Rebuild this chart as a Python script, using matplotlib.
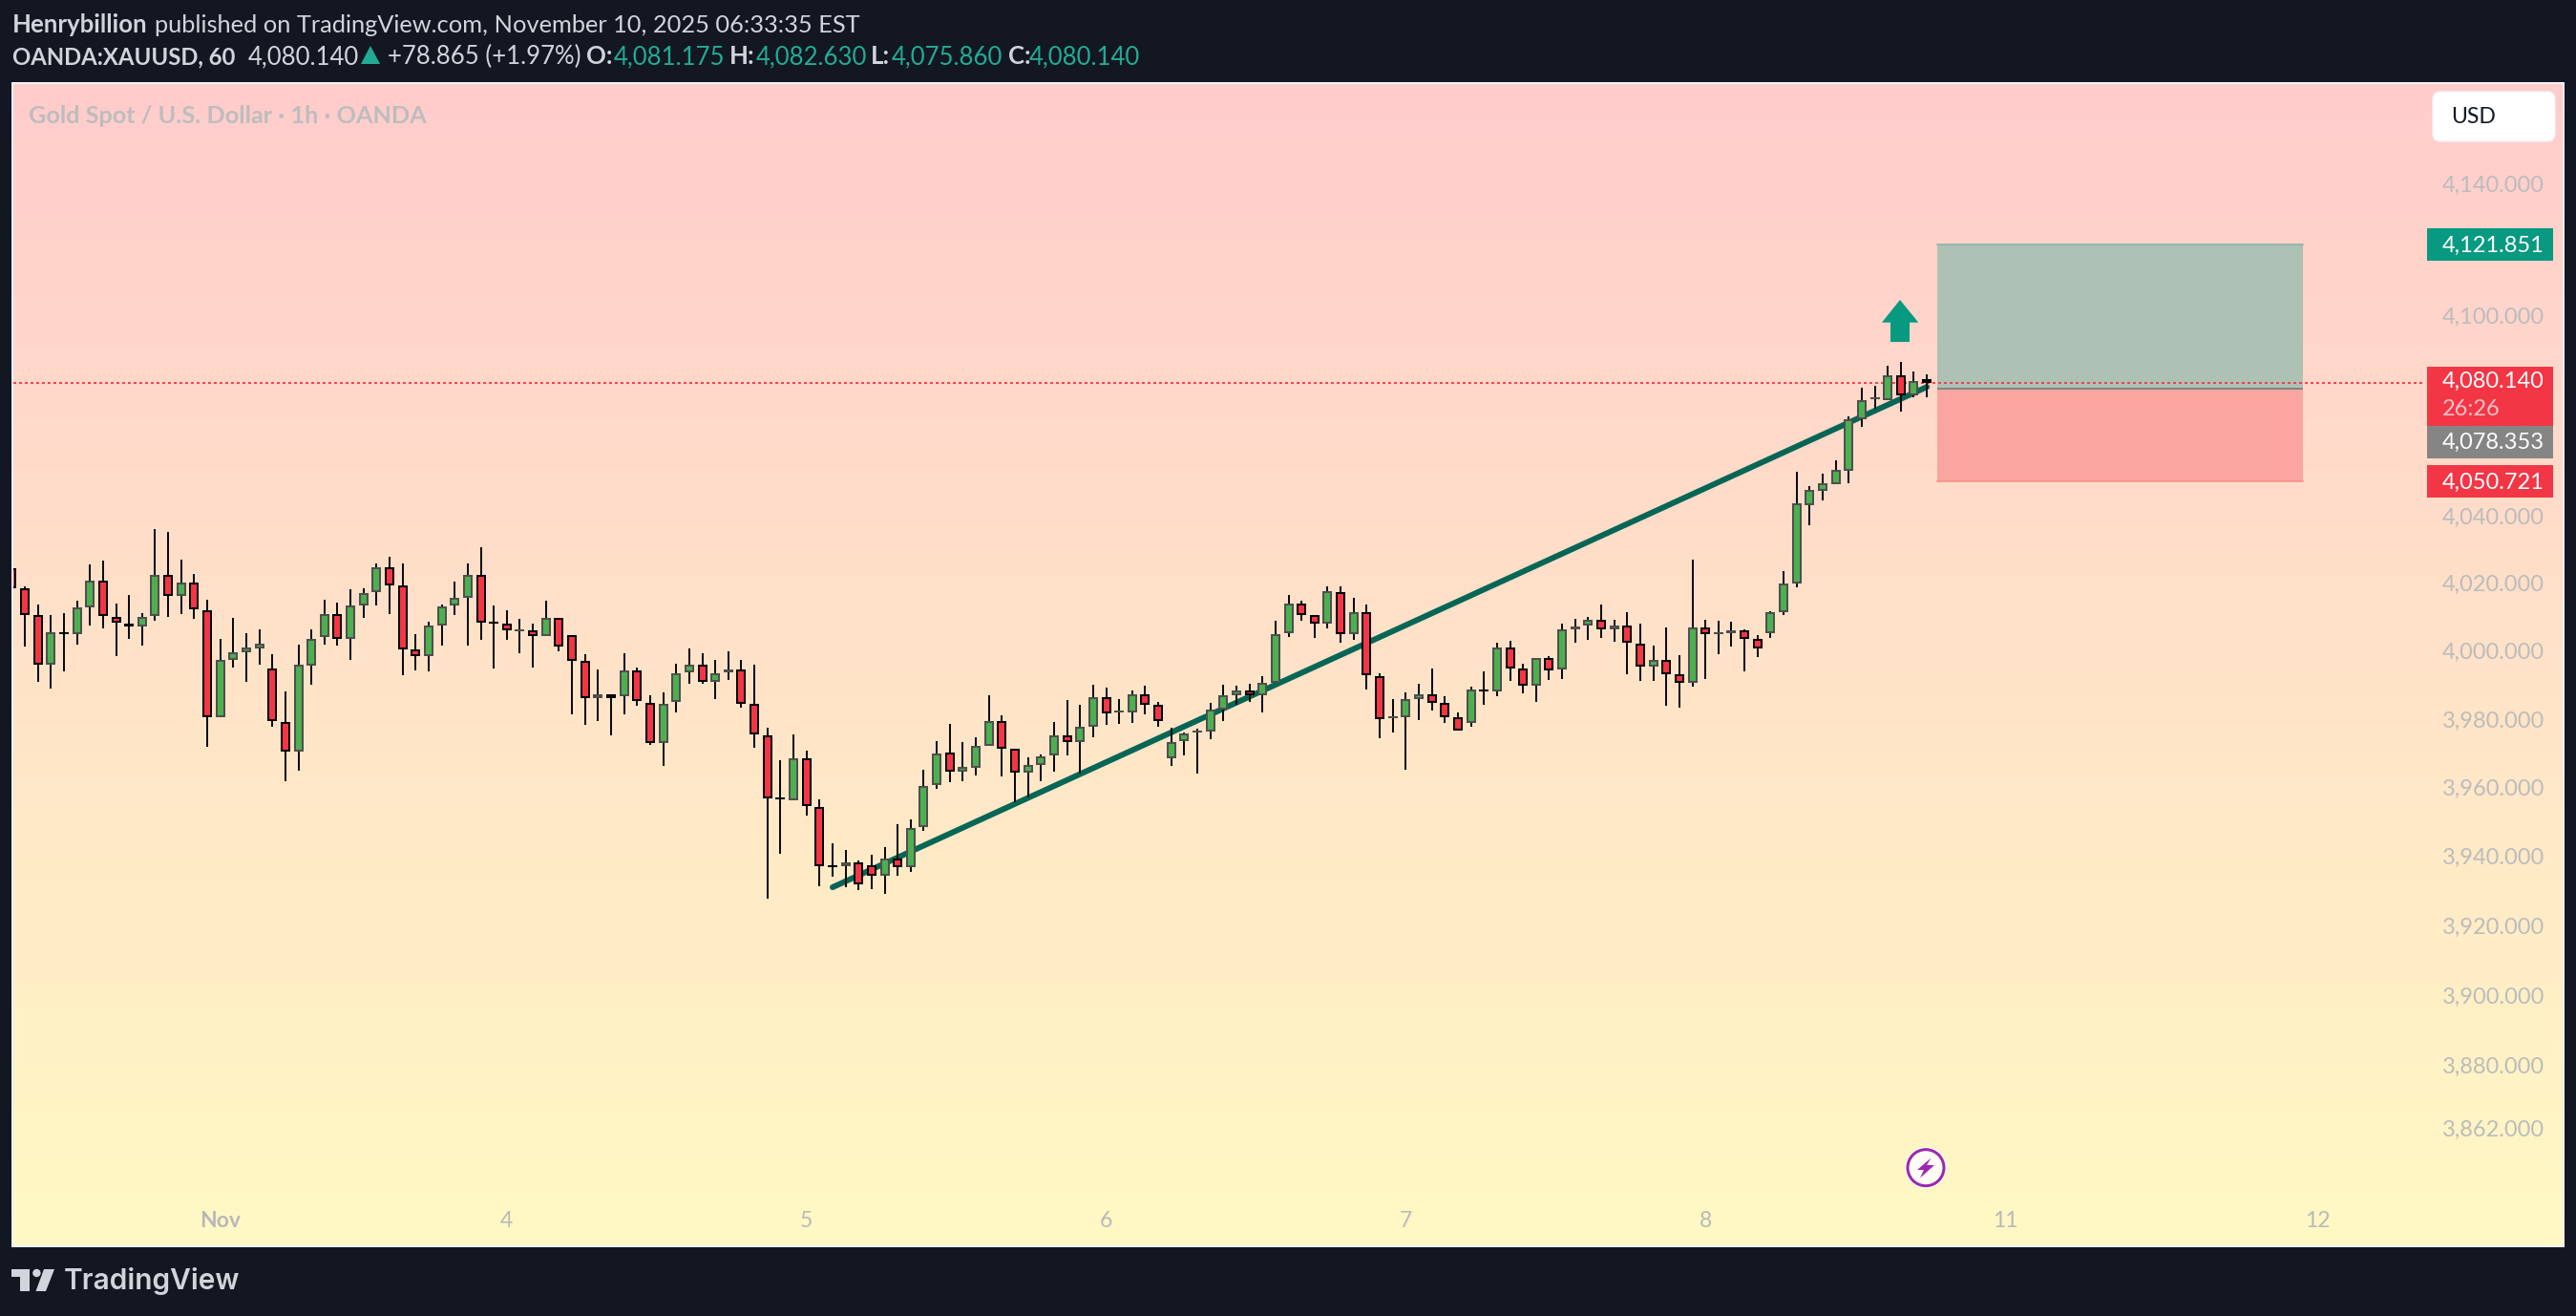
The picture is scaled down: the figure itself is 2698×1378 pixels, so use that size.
import numpy as np
import matplotlib
matplotlib.use("Agg")
import matplotlib.pyplot as plt
from matplotlib.colors import LinearSegmentedColormap
from matplotlib.patches import Rectangle, Polygon, FancyBboxPatch, Circle, Ellipse
from matplotlib.transforms import blended_transform_factory

opens = [4025.0,
 4018.8,4011.1,3996.4,4005.8,4005.3,4013.4,4021.2,4010.6,4008.6,4007.6,
 4010.7,4022.9,4016.8,4020.7,4012.5,3980.9,3997.8,4000.0,4001.3,3995.4,
 3979.7,3970.8,3996.1,4004.5,4011.4,4003.9,4013.9,4017.7,4025.2,4019.8,
 4000.8,3998.9,4007.9,4013.8,4016.0,4022.9,4008.9,4008.6,4006.5,4006.4,
 4004.9,4010.3,4005.2,3997.4,3986.7,3987.7,3987.1,3994.6,3985.3,3973.4,
 3985.4,3994.1,3996.3,3991.3,3994.1,3995.1,3984.8,3975.8,3957.4,3956.8,
 3969.1,3954.8,3937.8,3937.5,3938.8,3938.0,3934.8,3939.8,3937.3,3948.9,
 3961.1,3970.7,3965.2,3966.3,3972.5,3979.9,3971.9,3964.7,3967.0,3969.7,
 3975.7,3973.6,3978.3,3986.8,3982.5,3982.5,3987.7,3984.6,3968.9,3973.9,
 3976.7,3976.9,3983.3,3987.5,3988.8,3987.4,3991.2,4005.6,4014.5,4010.9,
 4008.4,4017.9,4005.4,4012.0,3992.9,3980.9,3980.9,3986.3,3987.7,3985.2,
 3980.9,3979.3,3988.9,3988.5,4001.6,3995.2,3990.2,3998.3,3995.0,4006.7,
 4007.9,4009.5,4006.8,4007.8,4002.7,3995.8,3997.7,3993.5,3991.0,4007.5,
 4005.7,4005.6,4006.4,4003.9,4005.7,4011.8,4020.2,4043.7,4047.9,4049.9,
 4053.9,4069.3,4075.4,4075.0,4082.3,4076.5,4081.175]
closes = [4019.0,
 4011.1,3996.4,4005.9,4005.6,4013.4,4021.2,4010.7,4008.7,4007.6,4010.6,
 4022.9,4016.8,4020.7,4012.6,3980.9,3997.7,4000.0,4001.6,4002.7,3979.8,
 3970.8,3996.3,4004.1,4011.4,4003.9,4013.9,4017.6,4025.2,4019.9,4000.9,
 3998.9,4007.8,4013.7,4016.2,4022.9,4008.7,4008.7,4006.5,4006.7,4004.9,
 4010.3,4001.8,3997.5,3986.6,3987.7,3986.7,3994.6,3985.8,3973.4,3985.0,
 3994.0,3996.3,3991.3,3994.0,3995.1,3984.9,3976.0,3957.2,3957.2,3969.1,
 3955.2,3937.6,3937.6,3938.8,3932.3,3934.8,3939.7,3937.3,3948.8,3961.0,
 3970.5,3965.0,3966.4,3972.7,3979.9,3971.9,3964.7,3967.0,3969.6,3975.7,
 3973.6,3978.2,3986.8,3982.2,3982.7,3987.7,3984.7,3980.0,3973.8,3976.3,
 3976.9,3983.2,3987.4,3988.8,3987.5,3991.2,4005.5,4014.5,4011.0,4008.4,
 4018.0,4005.4,4012.0,3993.3,3980.4,3981.1,3986.2,3987.7,3985.2,3980.9,
 3977.1,3989.0,3988.7,4001.6,3995.4,3990.2,3998.3,3994.7,4006.7,4007.6,
 4009.5,4006.8,4007.8,4002.8,3995.8,3997.7,3993.6,3991.0,4007.5,4005.4,
 4005.9,4006.5,4004.0,4001.2,4011.8,4020.2,4044.1,4048.0,4050.0,4054.0,
 4069.3,4075.0,4075.6,4082.3,4076.5,4080.8,4080.14]
highs = [4025.0,
 4019.5,4014.1,4011.0,4011.5,4015.3,4025.9,4027.0,4014.4,4016.9,4011.6,
 4036.6,4035.7,4027.3,4023.1,4015.5,4004.0,4010.2,4005.7,4006.8,3999.5,
 3988.6,4002.3,4006.8,4015.5,4014.7,4018.6,4018.9,4026.2,4028.2,4026.2,
 4005.4,4009.1,4014.1,4020.9,4026.2,4031.0,4013.8,4012.4,4009.9,4008.5,
 4015.2,4010.3,4005.2,3999.5,3995.1,3987.7,3999.8,3995.6,3987.5,3988.3,
 3996.7,4001.2,3999.8,3997.9,4000.4,3997.9,3996.5,3977.9,3968.4,3976.0,
 3971.2,3956.9,3944.3,3942.3,3939.3,3941.0,3943.2,3949.8,3951.2,3965.7,
 3974.0,3979.0,3973.7,3975.1,3987.3,3981.5,3971.9,3969.3,3970.1,3979.5,
 3985.9,3984.5,3990.6,3989.8,3986.2,3988.7,3990.1,3985.4,3977.9,3976.5,
 3977.6,3985.1,3990.6,3990.1,3990.9,3993.1,4009.4,4016.9,4015.3,4010.9,
 4019.5,4019.5,4016.1,4014.1,3993.9,3986.4,3988.3,3990.9,3995.4,3987.2,
 3982.4,3990.0,3994.5,4002.9,4003.5,3996.8,3998.3,3999.0,4008.5,4009.9,
 4010.5,4014.1,4009.7,4011.9,4008.5,4002.1,4007.4,3999.3,4027.4,4009.7,
 4009.4,4009.1,4006.9,4005.2,4012.2,4024.0,4053.5,4049.3,4053.0,4056.9,
 4070.1,4078.6,4079.2,4085.2,4086.4,4083.5,4082.63]
lows = [4019.0,
 4001.8,3991.4,3989.3,3994.5,4002.3,4008.0,4007.1,3999.0,4004.0,4002.1,
 4009.4,4010.5,4011.3,4009.9,3972.3,3980.9,3995.6,3991.4,3996.5,3978.2,
 3962.2,3965.3,3990.6,4002.3,4002.1,3997.9,4010.2,4013.8,4011.3,3993.4,
 3994.8,3994.5,4002.1,4011.0,4002.1,4003.8,3995.3,4003.8,3999.8,3995.6,
 4004.9,4000.4,3981.9,3978.8,3979.9,3975.7,3981.9,3984.4,3972.9,3966.7,
 3982.4,3990.8,3990.8,3986.4,3992.0,3983.8,3972.1,3928.3,3941.2,3956.8,
 3952.4,3931.7,3934.5,3931.5,3930.7,3931.0,3929.6,3934.9,3936.0,3947.9,
 3960.1,3962.1,3962.3,3964.0,3972.5,3963.7,3956.2,3957.6,3962.3,3965.1,
 3969.8,3964.5,3975.1,3978.7,3979.0,3979.3,3981.8,3978.1,3966.8,3969.8,
 3964.5,3974.5,3979.8,3984.5,3985.6,3982.4,3991.2,4004.6,4009.4,4004.3,
 4007.1,4002.9,4003.8,3989.2,3974.9,3976.6,3965.6,3980.2,3983.0,3979.4,
 3977.1,3978.2,3984.7,3987.2,3991.7,3988.1,3985.5,3992.0,3992.3,4002.9,
 4003.8,4004.3,4003.2,3993.7,3991.7,3991.7,3984.4,3983.8,3990.0,3992.3,
 3999.6,4001.8,3994.5,3998.7,4004.3,4011.1,4019.2,4037.6,4045.0,4049.9,
 4050.1,4066.9,4072.3,4075.0,4071.5,4075.8,4075.86]

price_ticks = [4140, 4100, 4040, 4020, 4000, 3980, 3960, 3940, 3920, 3900, 3880, 3862]
date_labels = ["Nov", "4", "5", "6", "7", "8", "11", "12"]
date_bars = [16, 38, 61, 84, 107, 130, 153, 177]
last_price = 4080.14
target_price = 4121.851
entry_price = 4078.353
stop_price = 4050.721
trend_bars = [63, 147]
trend_prices = [3931.5, 4078.9]
box_bars = [147.8, 175.9]

W, H = 2698, 1378
BG = "#131722"
KPX = 14236.0
BAR_PX = 13.645
GREEN, RED, EDGE_G, EDGE_R, WICK = "#4CAF50", "#F23645", "#4F4F4F", "#000000", "#0A0A0A"
FONT = "Lato"
px = 0.72

fig = plt.figure(figsize=(W / 100, H / 100), dpi=100, facecolor=BG)
rect = [14 / W, 1 - 1304 / H, 2670 / W, 1216 / H]

ax_bg = fig.add_axes(rect, zorder=0)
cmap = LinearSegmentedColormap.from_list("g", ["#FFCCCC", "#FFF9C4"])
ax_bg.imshow(np.linspace(0, 1, 256)[:, None], aspect="auto", cmap=cmap, interpolation="bilinear")
ax_bg.axis("off")

ax = fig.add_axes(rect, zorder=1, facecolor="none")
ax.set_yscale("log")
ax.set_ylim(3829.3, 4170.8)
ax.set_xlim(0.121, 195.8)
ax.axis("off")

ov = fig.add_axes([0, 0, 1, 1], zorder=2, facecolor="none")
ov.set_xlim(0, W)
ov.set_ylim(H, 0)
ov.axis("off")

ax.fill_between(box_bars, entry_price, target_price, color="#ADC1B4", lw=0, zorder=1)
ax.fill_between(box_bars, stop_price, entry_price, color="#FBA5A0", lw=0, zorder=1)
ax.plot(box_bars, [target_price] * 2, color="#7DB5A4", lw=1.5 * px, zorder=1.5)
ax.plot(box_bars, [stop_price] * 2, color="#F58A8C", lw=1.5 * px, zorder=1.5)
ax.plot(box_bars, [entry_price] * 2, color="#7F8583", lw=2 * px, zorder=1.5, solid_capstyle="butt")

ax.plot([0.121, 185], [last_price] * 2, color=RED, lw=1.8 * px, ls=(0, (3 / 1.8, 3 / 1.8)), zorder=2)

ax.plot(trend_bars, trend_prices, color="#056656", lw=6 * px, solid_capstyle="round", zorder=3)

x = np.arange(len(opens))
o, h, l, c = map(np.array, (opens, highs, lows, closes))
up = c >= o
top = np.maximum(o, c)
bot = np.minimum(o, c)
ax.vlines(x, l, h, color=WICK, lw=2 * px, zorder=4)
f1 = np.exp(1 / KPX)
for i in x:
    t_, b_ = top[i], bot[i]
    if t_ / b_ < f1 ** 2:
        m = np.sqrt(t_ * b_)
        t_, b_ = m * f1, m / f1
    ax.bar(i, t_ - b_, bottom=b_, width=10 / BAR_PX, color=EDGE_G if up[i] else EDGE_R, lw=0, zorder=5)
    it, ib = t_ / f1 ** 2, b_ * f1 ** 2
    if it > ib:
        ax.bar(i, it - ib, bottom=ib, width=6 / BAR_PX, color=GREEN if up[i] else RED, lw=0, zorder=6)

tr_y = blended_transform_factory(ov.transData, ax.transData)
for p in price_ticks:
    ax.annotate(f"{p:,.3f}", xy=(2558, p), xycoords=tr_y, xytext=(0, -7), textcoords="offset pixels",
                va="baseline", ha="left", fontsize=17, family=FONT, color="#BBBCBC", zorder=7,
                annotation_clip=False)
tr_x = blended_transform_factory(ax.transData, ov.transData)
for b, s in zip(date_bars, date_labels):
    ax.annotate(s, xy=(b, 1285), xycoords=tr_x, va="baseline", ha="center", fontsize=16.5,
                family=FONT, color="#B8B9B8", fontweight="bold" if s == "Nov" else "normal", zorder=7,
                annotation_clip=False)

ov.add_patch(Rectangle((13, 87), 2672, 1218, fill=False, ec="#F0F3FA", lw=2 * px))

TXT = "#D1D4DC"
TEAL = "#22AB94"
def t(xp, yp, s, color=TXT, weight="normal", size=18.5, **kw):
    return ov.text(xp, yp, s, color=color, fontweight=weight, fontsize=size, family=kw.pop("family", FONT),
                   va="baseline", ha="left", **kw)
t(13, 34, "Henrybillion", weight="bold")
t(162, 34, "published on TradingView.com, November 10, 2025 06:33:35 EST", size=18.3)
t(13, 67, "OANDA:XAUUSD, 60", weight="bold", size=17.2)
t(260, 67, "4,080.140")
ov.add_patch(Polygon([(388, 48), (378, 67), (398, 67)], color=TEAL, lw=0))
t(406, 67, "+78.865 (+1.97%)")
for xl, lab, xv, val in [(614, "O:", 643, "4,081.175"), (764, "H:", 792, "4,082.630"),
                         (912, "L:", 934, "4,075.860"), (1056, "C:", 1078, "4,080.140")]:
    t(xl, 67, lab, weight="bold")
    t(xv, 67, val, color=TEAL)
t(30, 129, "Gold Spot / U.S. Dollar · 1h · OANDA", color="#BDBDBD", weight="bold", size=18.2)

ov.add_patch(FancyBboxPatch((2552, 100), 120, 44, boxstyle="round,pad=4,rounding_size=8", fc="white", ec="#F0F3FA", lw=1))
t(2567, 129, "USD", color="#131722", size=16.5)

def tag(y0, y1, color, s, sub=None, ybase=None):
    ov.add_patch(FancyBboxPatch((2542, y0), 132, y1 - y0, boxstyle="square,pad=0", fc=color, ec="none"))
    t(2558, ybase, s, color="white", size=17)
    if sub:
        t(2558, ybase + 29, sub, color="#FBC2C7", size=17)
tag(239, 272.7, "#089981", "4,121.851", ybase=263.5)
tag(384, 445.7, "#F23645", "4,080.140", "26:26", ybase=406)
tag(446, 480, "#858585", "4,078.353", ybase=470)
tag(487, 520.7, "#F23645", "4,050.721", ybase=512)

ov.add_patch(Polygon([(1990, 314), (2009.3, 337.7), (2000, 337.7), (2000, 358), (1980, 358), (1980, 337.7), (1971, 337.7)],
                     color="#089981", lw=0))
ov.add_patch(Circle((2017, 1222.7), 21.5, fc="white", ec="none"))
ov.add_patch(Circle((2017, 1222.7), 19, fc="#FFFDF5", ec="#9C27B0", lw=3 * px))
ov.add_patch(Polygon([(2022.5, 1212.5), (2008, 1225), (2015, 1225), (2011, 1233.5), (2026, 1220), (2018, 1220)],
                     color="#9C27B0", lw=0))
ov.add_patch(Polygon([(12, 1329), (31, 1329), (31, 1352), (21, 1352), (21, 1337), (12, 1337)], color=TXT, lw=0))
ov.add_patch(Circle((38.4, 1333), 4.2, color=TXT, lw=0))
ov.add_patch(Polygon([(46, 1329), (57, 1329), (48, 1352), (37.5, 1352)], color=TXT, lw=0))
ov.text(67, 1350, "TradingView", color=TXT, fontsize=21.5, fontweight="semibold", family="Inter", va="baseline", ha="left")

fig.savefig("out.png", dpi=100, facecolor=BG)
